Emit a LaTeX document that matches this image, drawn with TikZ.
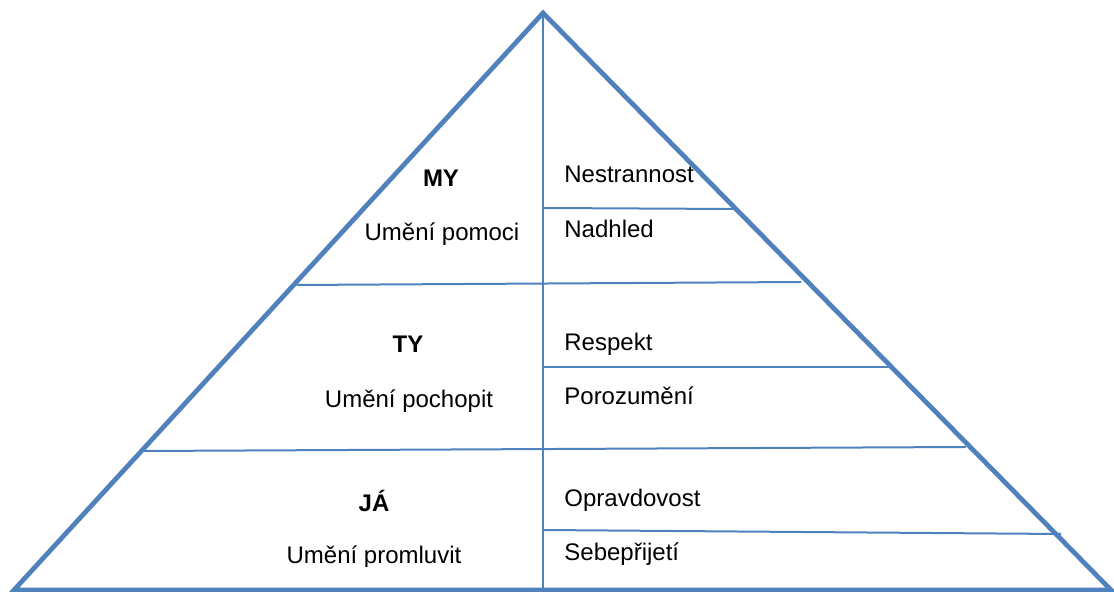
\documentclass[tikz,border=0pt]{standalone}
\usepackage{fontspec}
\setmainfont{Liberation Sans}
\usepackage{xcolor}
\definecolor{pyrblue}{RGB}{79,129,189}
\tikzset{
  sideline/.style={pyrblue,line width=2.3pt,line join=miter},
  sideshadow/.style={black!25,line width=2.3pt,line join=miter},
  divline/.style={pyrblue,line width=1pt},
  levelname/.style={font=\bfseries\fontsize{12}{14}\selectfont,anchor=base,inner sep=0pt},
  skillname/.style={font=\fontsize{12}{14}\selectfont,anchor=base,inner sep=0pt},
  valuename/.style={font=\fontsize{12}{14}\selectfont,anchor=base west,inner sep=0pt},
}

\begin{document}
\begin{tikzpicture}[x=0.5pt,y=-0.5pt]
\useasboundingbox (0,0) rectangle (1114,592);

\coordinate (apex) at (543,13);
\coordinate (bl) at (14,590);
\coordinate (br) at (1111,590);

% pyramid outline
\draw[sideshadow,shift={(2,2)}] (bl) -- (apex) -- (br);
\draw[divline] (apex) -- (543,590);
\draw[divline] (297,285) -- (801,282);
\draw[divline] (143,451) -- (966,447);
\draw[divline] (543,208) -- (733,209);
\draw[divline] (543,367) -- (894,367);
\draw[divline] (543,530) -- (1061,534);
\draw[sideline] (bl) -- (apex) -- (br) -- cycle;

% left column
\node[levelname] (my) at (441,187) {MY};
\node[skillname] (pomoc) at (442,241) {Umění pomoci};
\node[levelname] (ty) at (408,353) {TY};
\node[skillname] (pochop) at (409,408) {Umění pochopit};
\node[levelname] (ja) at (374,512) {JÁ};
\begin{scope}
\clip (0,0) rectangle (1114,567);
\node[skillname] (promluv) at (374,564) {Umění promluvit};
\end{scope}

% right column
\node[valuename] (nestran) at (564,183) {Nestrannost};
\node[valuename] (nadhled) at (564,238) {Nadhled};
\node[valuename] (respekt) at (564,351) {Respekt};
\node[valuename] (porozum) at (564,405) {Porozumění};
\node[valuename] (opravd) at (564,507) {Opravdovost};
\node[valuename] (sebepr) at (564,561) {Sebepřijetí};
\end{tikzpicture}
\end{document}
